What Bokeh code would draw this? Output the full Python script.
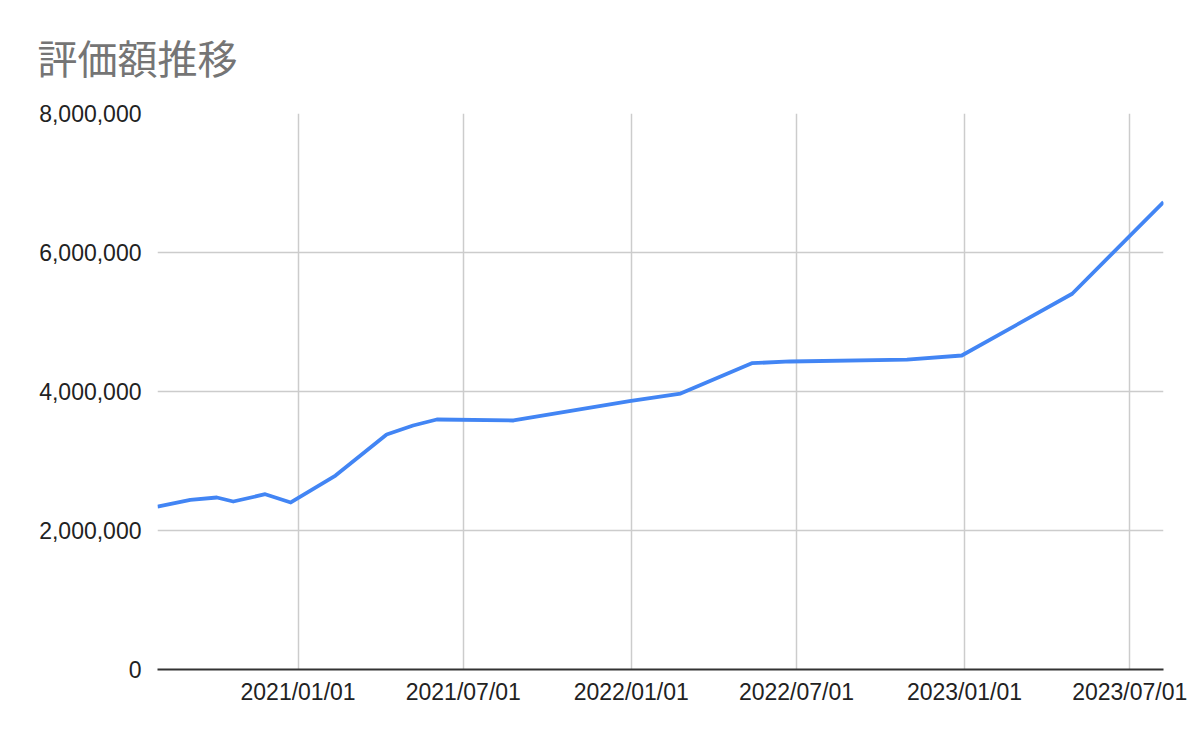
from datetime import datetime
from bokeh.plotting import figure
from bokeh.models import FixedTicker, NumeralTickFormatter, DatetimeTickFormatter, Range1d
from bokeh.embed import file_html
from bokeh.resources import INLINE

title_text = "評価額推移"
dates = ["2020-07-31", "2020-09-05", "2020-10-04", "2020-10-22", "2020-11-26", "2020-12-24",
         "2021-02-11", "2021-04-08", "2021-05-07", "2021-06-02", "2021-08-25", "2021-12-30",
         "2022-02-24", "2022-05-13", "2022-06-24", "2022-10-30", "2022-12-29", "2023-04-29",
         "2023-08-07"]
values = [2345000, 2442000, 2475000, 2417000, 2522000, 2403000,
          2791000, 3381000, 3511000, 3597000, 3583000, 3863000,
          3971000, 4407000, 4432000, 4460000, 4518000, 5406000,
          6727000]
x_tick_dates = ["2021-01-01", "2021-07-01", "2022-01-01", "2022-07-01", "2023-01-01", "2023-07-01"]
y_ticks = [0, 2000000, 4000000, 6000000, 8000000]

xs = [datetime.strptime(d, "%Y-%m-%d") for d in dates]
def ms(d):
    return (datetime.strptime(d, "%Y-%m-%d") - datetime(1970, 1, 1)).total_seconds() * 1000

p = figure(width=1192, height=734, x_axis_type="datetime", output_backend="svg",
           toolbar_location=None,
           x_range=Range1d(ms(dates[0]), ms(dates[-1])), y_range=Range1d(0, 8000000),
           min_border_left=157, min_border_right=29, min_border_top=113, min_border_bottom=65)

p.title.text = title_text
p.title.text_font = "Noto Sans CJK JP"
p.title.text_font_size = "40px"
p.title.text_font_style = "normal"
p.title.text_color = "#757575"
p.title.vertical_align = "top"
p.title.offset = -120
p.title.standoff = 52

p.outline_line_color = None
p.background_fill_color = "white"
p.border_fill_color = "white"

p.line(xs, values, line_color="#4285F4", line_width=3.8, line_join="round")

p.xaxis.ticker = FixedTicker(ticks=[ms(d) for d in x_tick_dates])
p.xaxis.formatter = DatetimeTickFormatter(days="%Y/%m/%d", months="%Y/%m/%d", years="%Y/%m/%d")
p.yaxis.ticker = FixedTicker(ticks=y_ticks)
p.yaxis.formatter = NumeralTickFormatter(format="0,0")

for ax in (p.xaxis[0], p.yaxis[0]):
    ax.major_label_text_font = "Liberation Sans"
    ax.major_label_text_font_size = "23px"
    ax.major_label_text_color = "#222222"
    ax.major_tick_line_color = None
    ax.minor_tick_line_color = None

p.yaxis.axis_line_color = None
p.yaxis.major_label_standoff = 10
p.xaxis.axis_line_color = "#333333"
p.xaxis.axis_line_width = 2
p.xaxis.major_label_standoff = 3

p.xgrid.grid_line_color = "#cccccc"
p.ygrid.grid_line_color = "#cccccc"
p.xgrid.grid_line_width = 1.5
p.ygrid.grid_line_width = 1.5

open("out.html", "w").write(file_html(p, INLINE))
